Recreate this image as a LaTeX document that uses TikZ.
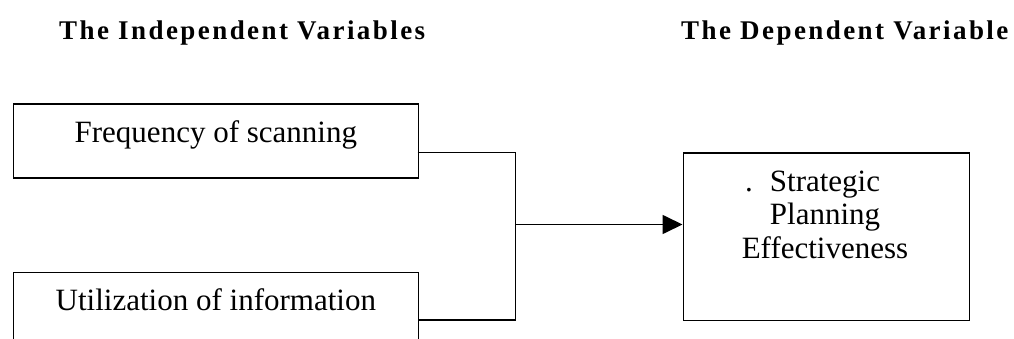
\documentclass[tikz,border=0pt]{standalone}
\usepackage{fontspec}
\setmainfont{Liberation Serif}
\usetikzlibrary{arrows.meta,calc}
\begin{document}
\begin{tikzpicture}[x=1pt,y=-1pt,
  box/.style={draw,line width=1.7pt,inner sep=0pt,anchor=north west},
  head/.style={font=\fontsize{27}{30}\selectfont\bfseries\addfontfeatures{LetterSpace=9},anchor=base west,inner sep=0pt},
  lab/.style={font=\fontsize{31}{34}\selectfont,inner sep=0pt,anchor=base},
  link/.style={line width=1.7pt},
  tip/.style={-{Triangle[length=20pt,width=19pt]}}]
\useasboundingbox (0,0) rectangle (1014,339);
\clip (0,0) rectangle (1014,339);
% column headings
\node[head] (hin) at (59,40) {The Independent Variables};
\node[head] (hdep) at (681,40) {The Dependent Variable};
% independent variables
\node[box,minimum width=405pt,minimum height=73.5pt] (freq) at (12.5,103.5) {};
\node[lab] (freqt) at ($(freq.north)+(0,39)$) {Frequency of scanning};
\node[box,minimum width=405pt,minimum height=100pt] (util) at (12.5,271.5) {};
\node[lab] (utilt) at ($(util.north)+(0,39)$) {Utilization of information};
% dependent variable
\node[box,minimum width=286pt,minimum height=167pt] (spe) at (682.5,152.5) {};
\node[lab] (spe1) at (825,192) {\llap{.\hspace{17pt}}Strategic};
\node[lab] (spe2) at (825,225) {Planning};
\node[lab] (spe3) at (825,258) {Effectiveness};
% connectors
\coordinate (fr) at (417.5,152.5);
\coordinate (ur) at (417.5,320);
\coordinate (j) at (515.5,224.5);
\draw[link] (fr) -| (j |- ur) -- (ur);
\draw[link,tip] (j) -- (spe.west |- j);
\end{tikzpicture}
\end{document}
